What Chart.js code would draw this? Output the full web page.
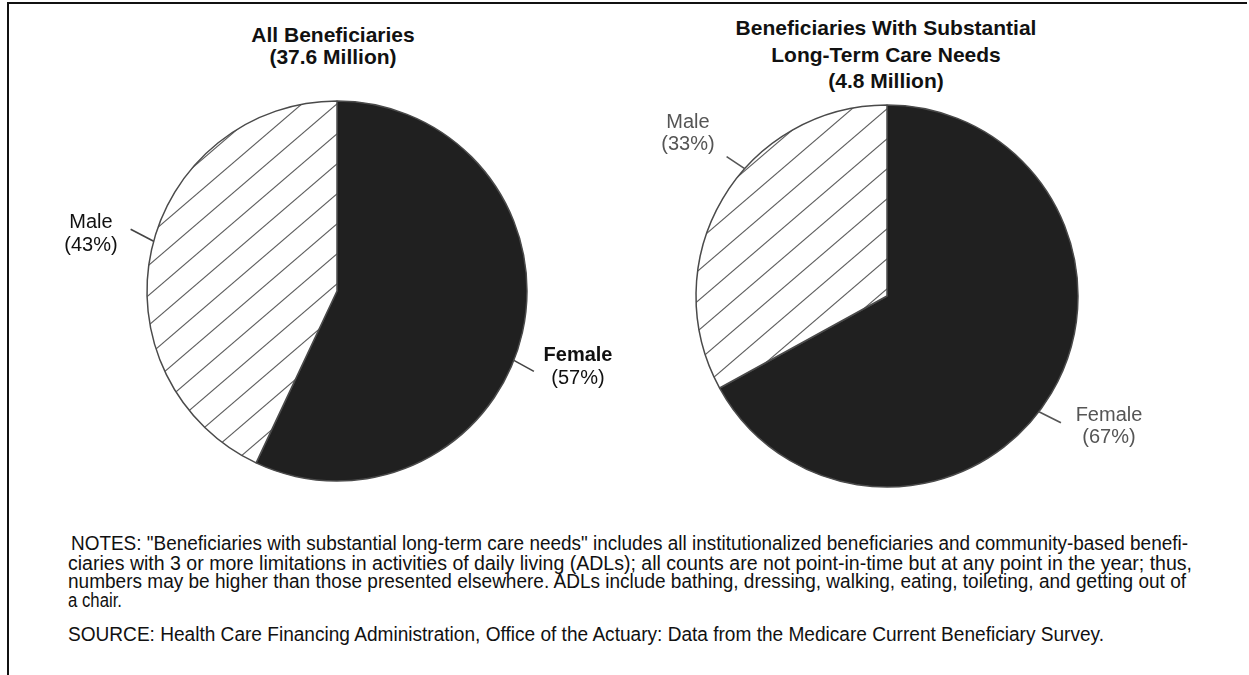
<!DOCTYPE html>
<html>
<head>
<meta charset="utf-8">
<script src="https://cdn.jsdelivr.net/npm/chart.js@4"></script>
<style>
  html, body { margin: 0; padding: 0; background: #fff; }
  body { width: 1249px; height: 675px; position: relative; overflow: hidden; font-family: "Liberation Sans", Arial, sans-serif; }
  .frame { position: absolute; background: #111; }
  .txt { position: absolute; white-space: nowrap; line-height: 1; }
  canvas { position: absolute; }
</style>
</head>
<body>
<div class="frame" style="left:7px;top:2px;width:1240px;height:2px;"></div>
<div class="frame" style="left:7px;top:2px;width:2px;height:673px;"></div>
<canvas id="leftPie" width="600" height="400" style="left:37px;top:91px;width:600px;height:400px;"></canvas>
<canvas id="rightPie" width="600" height="400" style="left:587px;top:96px;width:600px;height:400px;"></canvas>
<div id="texts"></div>
<script>
// ---------- data ----------
const categories = ['Female', 'Male'];
const allBeneficiariesPct = [57, 43];
const ltcNeedsPct = [67, 33];
const leftTitleLines = ['All Beneficiaries', '(37.6 Million)'];
const rightTitleLines = ['Beneficiaries With Substantial', 'Long-Term Care Needs', '(4.8 Million)'];
const notesLines = [
  'NOTES: "Beneficiaries with substantial long-term care needs" includes all institutionalized beneficiaries and community-based benefi-',
  'ciaries with 3 or more limitations in activities of daily living (ADLs); all counts are not point-in-time but at any point in the year; thus,',
  'numbers may be higher than those presented elsewhere. ADLs include bathing, dressing, walking, eating, toileting, and getting out of',
  'a chair.'
];
const sourceLine = 'SOURCE: Health Care Financing Administration, Office of the Actuary: Data from the Medicare Current Beneficiary Survey.';

// ---------- layout / styles ----------
const FONT = '"Liberation Sans", Arial, sans-serif';
const ASC = 0.8465; // baseline offset from top for line-height:1

function placeText(text, opts) {
  const d = document.createElement('div');
  d.className = 'txt';
  d.textContent = text;
  d.style.fontSize = opts.size + 'px';
  d.style.fontWeight = opts.bold ? 'bold' : 'normal';
  d.style.color = opts.color || '#111';
  d.style.top = (opts.baseline - ASC * opts.size) + 'px';
  document.getElementById('texts').appendChild(d);
  const w = d.getBoundingClientRect().width;
  const k = opts.width ? opts.width / w : 1;
  if (opts.align === 'center') {
    d.style.left = (opts.x - w / 2) + 'px';
    d.style.transformOrigin = '50% 50%';
  } else {
    d.style.left = opts.x + 'px';
    d.style.transformOrigin = '0 50%';
  }
  if (k !== 1) d.style.transform = 'scaleX(' + k + ')';
}

// titles
const leftTitleBase = [42, 63.5];
leftTitleLines.forEach((t, i) => placeText(t, {x: 333, baseline: leftTitleBase[i], size: 21, bold: true, align: 'center'}));
const rightTitleBase = [35, 62, 88];
rightTitleLines.forEach((t, i) => placeText(t, {x: 886, baseline: rightTitleBase[i], size: 21, bold: true, align: 'center'}));

// notes
const notesLayout = [
  {x: 71, base: 551, w: 1188 - 71},
  {x: 68, base: 571, w: 1192 - 68},
  {x: 68, base: 589, w: 1186 - 68},
  {x: 68, base: 607.5, w: 122 - 68}
];
notesLines.forEach((t, i) => placeText(t, {x: notesLayout[i].x, baseline: notesLayout[i].base, size: 19.5, width: notesLayout[i].w, color: '#111'}));
placeText(sourceLine, {x: 68, baseline: 642, size: 19.5, width: 1104 - 68, color: '#111'});

// ---------- hatch pattern ----------
function makeHatch(ctx) {
  const W = 35, H = 30;
  const c = document.createElement('canvas');
  c.width = W; c.height = H;
  const g = c.getContext('2d');
  g.fillStyle = '#ffffff';
  g.fillRect(0, 0, W, H);
  g.strokeStyle = '#5e5e5e';
  g.lineWidth = 1.1;
  for (let n = -1; n <= 1; n++) {
    g.beginPath();
    g.moveTo(-W, 2 * H + n * H);
    g.lineTo(2 * W, -H + n * H);
    g.stroke();
  }
  return ctx.createPattern(c, 'repeat');
}

// ---------- label plugin ----------
const pieLabelPlugin = {
  id: 'pieLabels',
  afterDraw(chart, args, opts) {
    const ctx = chart.ctx;
    const meta = chart.getDatasetMeta(0);
    const arc0 = meta.data[0];
    const cx = arc0.x, cy = arc0.y, r = arc0.outerRadius;
    (opts.items || []).forEach(it => {
      const a = it.angle * Math.PI / 180;
      const ex = cx + r * Math.sin(a), ey = cy - r * Math.cos(a);
      ctx.save();
      ctx.strokeStyle = opts.leaderColor;
      ctx.lineWidth = 1.6;
      ctx.beginPath();
      ctx.moveTo(ex, ey);
      ctx.lineTo(ex + it.leader[0], ey + it.leader[1]);
      ctx.stroke();
      ctx.textAlign = 'center';
      ctx.textBaseline = 'alphabetic';
      ctx.fillStyle = opts.textColor;
      const name = categories[it.index];
      const pct = '(' + chart.data.datasets[0].data[it.index] + '%)';
      ctx.font = (it.boldName ? 'bold ' : '') + opts.size + 'px ' + FONT;
      ctx.fillText(name, cx + it.dx, cy + it.dy[0]);
      ctx.font = opts.size + 'px ' + FONT;
      ctx.fillText(pct, cx + it.dx, cy + it.dy[1]);
      ctx.restore();
    });
  }
};

function makePie(id, values, radius, labelOpts) {
  const ctx = document.getElementById(id).getContext('2d');
  return new Chart(ctx, {
    type: 'pie',
    data: {
      labels: categories,
      datasets: [{
        data: values,
        backgroundColor: ['#202020', makeHatch(ctx)],
        borderColor: '#4a4a4a',
        borderWidth: 1.5,
        hoverOffset: 0
      }]
    },
    options: {
      responsive: false,
      animation: false,
      radius: radius,
      layout: {padding: 0},
      plugins: {
        legend: {display: false},
        tooltip: {enabled: false},
        title: {display: false},
        pieLabels: labelOpts
      }
    },
    plugins: [pieLabelPlugin]
  });
}

makePie('leftPie', allBeneficiariesPct, 190, {
  size: 20, textColor: '#111', leaderColor: '#444',
  items: [
    {index: 1, angle: 285.2, leader: [-23, -12], dx: -246, dy: [-63, -40], boldName: false},
    {index: 0, angle: 111.4, leader: [20, 11], dx: 241, dy: [70, 93], boldName: true}
  ]
});

makePie('rightPie', ltcNeedsPct, 191, {
  size: 20, textColor: '#555', leaderColor: '#555',
  items: [
    {index: 1, angle: 311.8, leader: [-18, -12], dx: -199, dy: [-168, -146], boldName: false},
    {index: 0, angle: 127.3, leader: [22, 11], dx: 222, dy: [125, 147], boldName: false}
  ]
});
</script>
</body>
</html>
